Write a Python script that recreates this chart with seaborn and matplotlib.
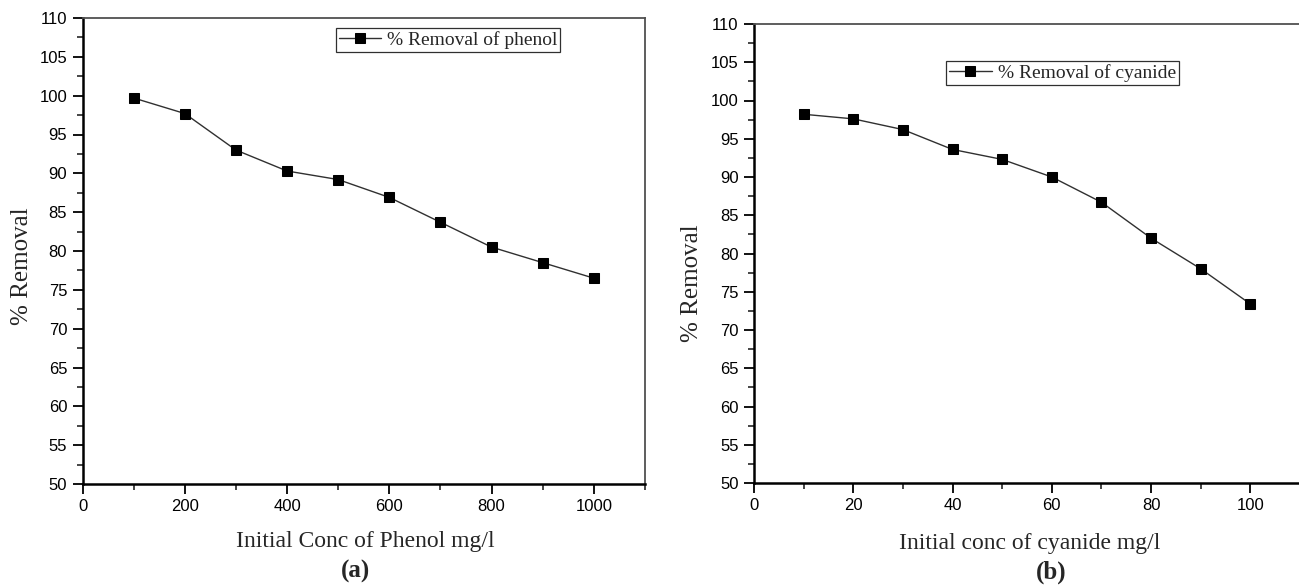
import numpy as np
import pandas as pd
import seaborn as sns
from matplotlib import pyplot as plt
from matplotlib.ticker import MultipleLocator

# data
phenol_conc = [100, 200, 300, 400, 500, 600, 700, 800, 900, 1000]
phenol_removal = [99.7, 97.7, 93.0, 90.3, 89.2, 86.9, 83.7, 80.5, 78.5, 76.5]

cyanide_conc = [10, 20, 30, 40, 50, 60, 70, 80, 90, 100]
cyanide_removal = [98.2, 97.6, 96.2, 93.6, 92.3, 90.0, 86.7, 82.0, 78.0, 73.4]

sns.set_theme(style="ticks")
plt.rcParams['font.family'] = ['Liberation Sans', 'DejaVu Sans']

SERIF = ['Liberation Serif', 'DejaVu Serif']


def panel(ax, x, y, label, xmax, xmajor, legend_anchor):
	df = pd.DataFrame({"x": x, "y": y})
	sns.lineplot(data=df, x="x", y="y", ax=ax, color="#303030", linewidth=1.0,
				 marker="s", markersize=7, markerfacecolor="black",
				 markeredgecolor="black", label=label)
	ax.set_xlim(0, xmax)
	ax.set_ylim(50, 110)
	ax.xaxis.set_major_locator(MultipleLocator(xmajor))
	ax.xaxis.set_minor_locator(MultipleLocator(xmajor / 2))
	ax.yaxis.set_major_locator(MultipleLocator(5))
	ax.yaxis.set_minor_locator(MultipleLocator(2.5))
	ax.tick_params(which="major", direction="out", length=7, width=1.3,
				   labelsize=12, colors="black", pad=4)
	ax.tick_params(which="minor", direction="out", length=4, width=1.2)
	ax.tick_params(top=False, right=False, which="both")
	for s in ["left", "bottom"]:
		ax.spines[s].set_linewidth(1.8)
		ax.spines[s].set_color("black")
	for s in ["top", "right"]:
		ax.spines[s].set_linewidth(1.3)
		ax.spines[s].set_color("#505050")
	ax.set_xlabel("")
	ax.set_ylabel("")
	leg = ax.legend(loc="upper left", bbox_to_anchor=legend_anchor, frameon=True,
					fancybox=False, edgecolor="#303030", framealpha=1,
					prop={"family": SERIF, "size": 14}, handlelength=2.2,
					handletextpad=0.3, borderpad=0.15, borderaxespad=0)
	leg.get_frame().set_linewidth(0.9)


fig = plt.figure(figsize=(12.99, 5.86), dpi=100)
ax1 = fig.add_axes([82.5 / 1299, 1 - 484 / 586, (645 - 82.5) / 1299, 466 / 586])
ax2 = fig.add_axes([754 / 1299, 1 - 483 / 586, 546 / 1299, 459 / 586])

panel(ax1, phenol_conc, phenol_removal, "% Removal of phenol", 1100, 200, (0.45, 0.978))
panel(ax2, cyanide_conc, cyanide_removal, "% Removal of cyanide", 110, 20, (0.352, 0.919))

# axis titles and panel captions
fig.text(365 / 1299, 1 - 542 / 586, "Initial Conc of Phenol mg/l", family=SERIF,
		 size=17, ha="center", va="center")
fig.text(1030 / 1299, 1 - 543 / 586, "Initial conc of cyanide mg/l", family=SERIF,
		 size=17, ha="center", va="center")
fig.text(22 / 1299, 1 - 266 / 586, "% Removal", family=SERIF, size=18,
		 rotation=90, ha="center", va="center")
fig.text(692 / 1299, 1 - 283 / 586, "% Removal", family=SERIF, size=18,
		 rotation=90, ha="center", va="center")
fig.text(356 / 1299, 1 - 571 / 586, "(a)", family=SERIF, size=18,
		 weight="bold", ha="center", va="center")
fig.text(1051 / 1299, 1 - 572 / 586, "(b)", family=SERIF, size=18,
		 weight="bold", ha="center", va="center")

fig.savefig("out.png", dpi=100, facecolor="white")
